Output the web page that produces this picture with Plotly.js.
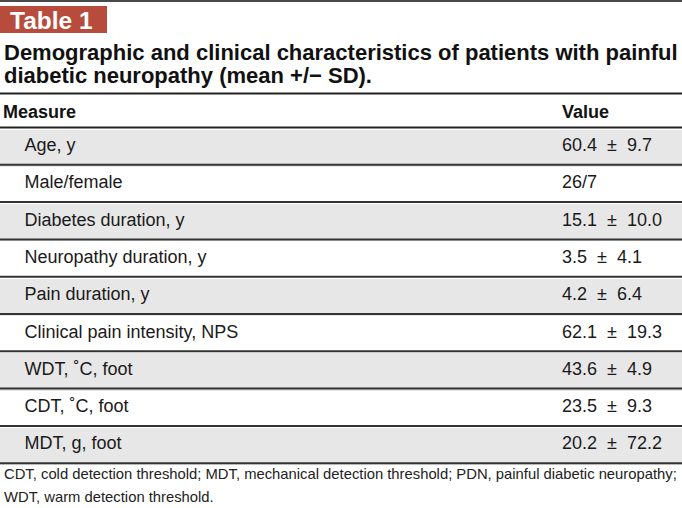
<!DOCTYPE html>
<html><head><meta charset="utf-8">
<script src="https://cdn.plot.ly/plotly-3.0.1.min.js"></script>
<style>html,body{margin:0;padding:0;overflow:hidden;background:#fff}#chart{position:absolute;left:-5px;top:0;width:687px;height:508px}</style>
</head><body><div id="chart"></div>
<script>
// ---- data ----
const tableLabel = 'Table 1';
const titleLines = ['Demographic and clinical characteristics of patients with painful', 'diabetic neuropathy (mean +/\u2212 SD).'];
const headers = ['Measure', 'Value'];
const measures = ['Age, y', 'Male/female', 'Diabetes duration, y', 'Neuropathy duration, y', 'Pain duration, y',
  'Clinical pain intensity, NPS', 'WDT, \u02DAC, foot', 'CDT, \u02DAC, foot', 'MDT, g, foot'];
const values = ['60.4 \u00B1 9.7', '26/7', '15.1 \u00B1 10.0', '3.5 \u00B1 4.1', '4.2 \u00B1 6.4',
  '62.1 \u00B1 19.3', '43.6 \u00B1 4.9', '23.5 \u00B1 9.3', '20.2 \u00B1 72.2'];
const footnoteLines = ['CDT, cold detection threshold; MDT, mechanical detection threshold; PDN, painful diabetic neuropathy;',
  'WDT, warm detection threshold.'];

// ---- geometry helpers (page pixels -> paper) ----
const W = 687, H = 508, OFF = 5;
const px = x => (x + OFF) / W;
const py = y => 1 - y / H;
const headTop = 93.5, headH = 34, rowH = 37.3;
const FONT = 'Liberation Sans, Arial, Helvetica, sans-serif';

const rowFill = measures.map((m, i) => i % 2 === 0 ? '#e7e7e7' : '#ffffff');
// display strings for the table cells (indent labels, widen the ± spacing)
const measureCells = measures.map(m => '\u00A0\u00A0\u00A0\u00A0\u200A' + m);
const valueCells = values.map(v => v.replace(' \u00B1 ', '\u00A0\u00A0\u00B1\u00A0\u00A0'));

const trace = {
  type: 'table',
  domain: {x: [0, 1], y: [0, py(headTop)]},
  columnwidth: [559, 128],
  header: {
    values: headers.map(h => '<b>' + h + '</b>'),
    align: 'left', height: headH,
    fill: {color: '#ffffff'}, line: {width: 0, color: '#ffffff'},
    font: {family: FONT, size: 18, color: '#111111'}
  },
  cells: {
    values: [measureCells, valueCells],
    align: 'left', height: rowH,
    fill: {color: [rowFill, rowFill]}, line: {width: 0, color: '#ffffff'},
    font: {family: FONT, size: 18, color: '#1a1a1a'}
  }
};

const shapes = [];
const hline = (y, w, c) => shapes.push({type: 'line', xref: 'paper', yref: 'paper', x0: px(0), x1: px(682), y0: py(y), y1: py(y), line: {width: w, color: c}});
hline(1, 2, '#4a4a4a');
hline(headTop, 2, '#222222');
hline(headTop + headH, 2, '#222222');
measures.forEach((m, i) => hline(headTop + headH + (i + 1) * rowH, 2, '#333333'));
shapes.push({type: 'rect', xref: 'paper', yref: 'paper', x0: px(0), x1: px(107), y0: py(6), y1: py(33), fillcolor: '#b84c3c', line: {width: 0}, layer: 'below'});

const annotations = [
  {text: '<b>' + tableLabel + '</b>', xref: 'paper', yref: 'paper', x: px(8), y: py(20), xanchor: 'left', yanchor: 'middle', showarrow: false,
   font: {family: FONT, size: 24.5, color: '#ffffff'}},
  ...titleLines.map((t, i) => ({text: '<b>' + t + '</b>', xref: 'paper', yref: 'paper', x: px(2), y: py(52 + i * 24), xanchor: 'left', yanchor: 'middle', showarrow: false,
   font: {family: FONT, size: 22, color: '#111111'}})),
  ...footnoteLines.map((t, i) => ({text: t, xref: 'paper', yref: 'paper', x: px(2), y: py(474 + i * 23), xanchor: 'left', yanchor: 'middle', showarrow: false,
   font: {family: FONT, size: 14.8, color: '#222222'}}))
];

Plotly.newPlot('chart', [trace], {
  width: W, height: H, margin: {l: 0, r: 0, t: 0, b: 0},
  paper_bgcolor: '#ffffff', plot_bgcolor: '#ffffff',
  shapes, annotations, showlegend: false
}, {displayModeBar: false, staticPlot: true});
</script></body></html>
